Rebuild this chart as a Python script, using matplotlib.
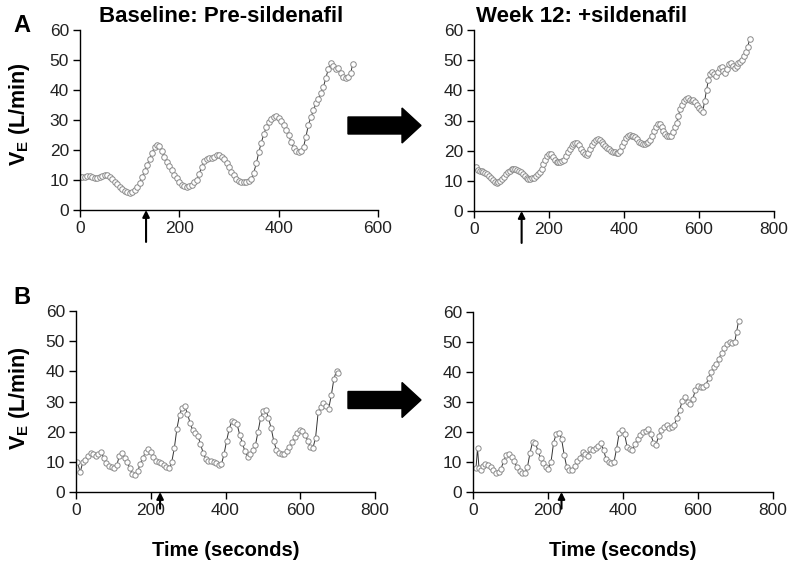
import matplotlib
matplotlib.use('Agg')
import matplotlib.pyplot as plt
from matplotlib.patches import Polygon

plt.rcParams['font.family'] = ['Liberation Sans', 'DejaVu Sans']
plt.rcParams['mathtext.fontset'] = 'custom'
plt.rcParams['mathtext.rm'] = 'Liberation Sans'
plt.rcParams['mathtext.bf'] = 'Liberation Sans:bold'

# A, baseline (pre-sildenafil)
a_pre_t = [0, 5, 10, 15, 20, 25, 30, 35, 40, 45, 50, 55, 60, 65, 70, 75, 80, 85, 90, 95,
           100, 105, 110, 115, 120, 125, 130, 135, 140, 145, 150, 155, 160, 165, 170, 175,
           180, 185, 190, 195, 200, 205, 210, 215, 220, 225, 230, 235, 240, 245, 250, 255,
           260, 265, 270, 275, 280, 285, 290, 295, 300, 305, 310, 315, 320, 325, 330, 335,
           340, 345, 350, 355, 360, 365, 370, 375, 380, 385, 390, 395, 400, 405, 410, 415,
           420, 425, 430, 435, 440, 445, 450, 455, 460, 465, 470, 475, 480, 485, 490, 495,
           500, 505, 510, 515, 520, 525, 530, 535, 540, 545, 549]
a_pre_ve = [11.0, 11.0, 11.1, 11.2, 11.2, 11.0, 10.8, 10.6, 11.0, 11.4,
            11.7, 11.6, 11.0, 10.2, 9.4, 8.6, 7.8, 7.0, 6.4, 6.0,
            5.8, 6.0, 6.6, 7.6, 9.0, 11.0, 13.0, 15.0, 17.0, 19.0,
            21.0, 21.7, 21.3, 19.8, 17.8, 16.0, 14.6, 13.2, 11.8, 10.6,
            9.4, 8.5, 7.9, 7.8, 8.0, 8.4, 9.2, 10.0, 12.0, 14.4,
            16.2, 17.0, 17.3, 17.5, 17.8, 18.3, 18.2, 17.6, 17.0, 15.8,
            14.3, 12.8, 11.6, 10.5, 9.8, 9.4, 9.3, 9.4, 9.6, 10.2,
            12.5, 15.6, 19.2, 22.5, 25.2, 27.6, 29.2, 30.4, 31.0, 31.3,
            30.8, 29.8, 28.3, 26.8, 25.0, 22.6, 20.6, 19.6, 19.4, 19.6,
            21.0, 24.5, 28.5, 31.0, 33.2, 35.6, 37.0, 39.0, 41.0, 44.0,
            47.0, 48.9, 48.0, 47.0, 47.4, 45.6, 44.2, 43.9, 44.2, 45.6, 48.6]

# A, week 12 (+sildenafil)
a_post_t = [5, 10, 15, 20, 25, 30, 35, 40, 45, 50, 55, 60, 65, 70, 75, 80, 85, 90, 95, 100,
            105, 110, 115, 120, 125, 130, 135, 140, 145, 150, 155, 160, 165, 170, 175, 180,
            185, 190, 195, 200, 205, 210, 215, 220, 225, 230, 235, 240, 245, 250, 255, 260,
            265, 270, 275, 280, 285, 290, 295, 300, 305, 310, 315, 320, 325, 330, 335, 340,
            345, 350, 355, 360, 365, 370, 375, 380, 385, 390, 395, 400, 405, 410, 415, 420,
            425, 430, 435, 440, 445, 450, 455, 460, 465, 470, 475, 480, 485, 490, 495, 500,
            505, 510, 515, 520, 525, 530, 535, 540, 545, 550, 555, 560, 565, 570, 575, 580,
            585, 590, 595, 600, 605, 610, 615, 620, 625, 630, 635, 640, 645, 650, 655, 660,
            665, 670, 675, 680, 685, 690, 695, 700, 705, 710, 715, 720, 725, 730, 735]
a_post_ve = [14.5, 13.6, 13.4, 13.2, 12.9, 12.5, 12.2, 11.6, 10.9, 10.2,
             9.7, 9.4, 9.5, 9.9, 10.6, 11.4, 12.2, 12.9, 13.4, 13.8,
             13.9, 13.9, 13.7, 13.4, 13.0, 12.4, 11.6, 10.8, 10.5, 10.6,
             10.8, 11.0, 11.6, 12.3, 13.0, 14.0, 15.5, 17.0, 18.3, 19.0,
             19.0, 18.0, 16.9, 16.3, 16.1, 16.2, 16.5, 17.0, 18.2, 19.5,
             20.6, 21.5, 22.2, 22.6, 22.5, 21.8, 20.5, 19.4, 18.8, 18.6,
             19.2, 20.5, 21.8, 22.8, 23.5, 23.9, 23.7, 23.0, 22.2, 21.5,
             21.0, 20.5, 20.0, 19.6, 19.5, 19.3, 19.2, 20.0, 21.5, 23.0,
             24.2, 24.9, 25.2, 25.0, 24.8, 24.4, 23.8, 23.0, 22.4, 22.2,
             22.3, 22.6, 23.0, 23.6, 24.8, 26.4, 27.8, 28.8, 29.0, 28.0,
             26.6, 25.6, 25.0, 24.8, 25.0, 26.2, 27.8, 29.2, 31.6, 33.8,
             35.2, 36.4, 37.2, 37.3, 36.9, 36.6, 36.8, 36.0, 35.1, 34.2,
             33.4, 32.9, 36.5, 40.2, 43.5, 45.5, 46.2, 45.5, 44.8, 46.0,
             47.4, 47.8, 46.5, 45.6, 47.2, 48.6, 49.0, 48.0, 47.5, 48.2,
             49.0, 49.5, 50.2, 51.5, 52.6, 54.5, 56.9]

# B, baseline
b_pre_t = [4, 11, 18, 25, 32, 39, 46, 53, 60, 67, 74, 81, 88, 95, 102, 109, 116, 123, 130,
           137, 144, 151, 158, 165, 172, 179, 186, 193, 200, 207, 214, 221, 228, 235, 242,
           249, 256, 263, 270, 277, 284, 291, 298, 305, 312, 319, 326, 333, 340, 347, 354,
           361, 368, 375, 382, 389, 396, 403, 410, 417, 424, 431, 438, 445, 452, 459, 466,
           473, 480, 487, 494, 501, 508, 515, 522, 529, 536, 543, 550, 557, 564, 571, 578,
           585, 592, 599, 606, 613, 620, 627, 634, 641, 648, 655, 662, 669, 676, 683, 690,
           697, 701]
b_pre_ve = [10.0, 6.5, 9.8, 10.5, 11.8, 12.8, 12.6, 11.8, 12.5, 13.2,
            11.4, 9.6, 8.6, 8.2, 7.8, 8.8, 12.0, 12.8, 11.2, 9.8,
            7.8, 6.0, 5.6, 6.8, 9.4, 11.4, 13.2, 14.1, 13.4, 11.5,
            10.4, 10.0, 9.6, 8.9, 8.2, 7.8, 9.8, 14.5, 21.0, 25.5,
            28.0, 28.4, 26.0, 23.0, 20.5, 19.4, 18.6, 16.0, 13.0, 11.0,
            10.3, 10.2, 10.0, 9.6, 9.0, 9.2, 12.5, 17.0, 21.0, 23.5,
            23.2, 22.4, 19.0, 16.3, 13.5, 11.7, 12.6, 13.8, 15.5, 20.0,
            24.5, 27.0, 27.2, 24.5, 21.2, 17.0, 14.0, 13.0, 12.6, 12.7,
            13.6, 14.8, 16.5, 18.2, 19.6, 20.5, 20.2, 19.0, 17.0, 15.0,
            14.6, 18.0, 26.5, 28.2, 29.5, 28.5, 27.6, 32.0, 37.5, 40.2, 39.3]

# B, week 12
b_post_t = [8, 12, 16, 20, 26, 33, 40, 47, 54, 61, 68, 75, 82, 89, 96, 103, 110, 117, 124,
            131, 138, 145, 152, 159, 166, 173, 180, 187, 194, 201, 208, 215, 222, 229, 236,
            243, 250, 257, 264, 271, 278, 285, 292, 299, 306, 313, 320, 327, 334, 341, 348,
            355, 362, 369, 376, 383, 390, 397, 404, 411, 418, 425, 432, 439, 446, 453, 460,
            467, 474, 481, 488, 495, 502, 509, 516, 523, 530, 537, 544, 551, 558, 565, 572,
            579, 586, 593, 600, 607, 614, 621, 628, 635, 642, 649, 656, 663, 670, 677, 684,
            691, 698, 703, 708]
b_post_ve = [7.9, 14.6, 8.0, 7.2, 8.8, 9.3, 9.0, 8.5, 7.2, 6.4,
             6.8, 7.8, 10.5, 12.4, 12.6, 11.8, 10.2, 8.2, 7.0, 6.4,
             6.2, 8.2, 13.0, 16.8, 16.5, 13.8, 11.3, 9.6, 8.2, 7.6,
             10.0, 16.5, 19.4, 19.6, 17.8, 12.5, 8.3, 7.2, 7.4, 8.8,
             10.3, 11.5, 13.2, 12.8, 12.0, 14.4, 14.0, 14.8, 15.4, 16.2,
             14.0, 11.0, 10.0, 9.6, 10.0, 14.5, 19.8, 20.7, 19.5, 15.0,
             14.4, 14.0, 16.0, 17.6, 19.0, 20.0, 20.5, 21.0, 19.2, 16.5,
             15.8, 18.6, 20.6, 21.8, 22.4, 21.2, 21.6, 22.4, 24.8, 27.2,
             30.5, 31.6, 30.0, 29.4, 31.0, 34.0, 35.2, 35.0, 35.0, 35.6,
             38.0, 40.0, 41.6, 42.8, 44.5, 46.5, 48.0, 49.2, 50.0, 49.6,
             50.0, 53.4, 56.9]

# start of exercise marker (seconds)
arrow_t = [133, 127, 225, 236]

W, H = 800, 577
fig = plt.figure(figsize=(8, 5.77), dpi=100)


def px_axes(x0, y0, x1, y1):
    # pixel box (left, top, right, bottom) -> figure axes
    return fig.add_axes([x0 / W, 1 - y1 / H, (x1 - x0) / W, (y1 - y0) / H])


def style(ax, xmax, xticks):
    ax.set_xlim(0, xmax)
    ax.set_ylim(0, 60)
    ax.set_xticks(xticks)
    ax.set_yticks([0, 10, 20, 30, 40, 50, 60])
    for s in ['top', 'right']:
        ax.spines[s].set_visible(False)
    for s in ['left', 'bottom']:
        ax.spines[s].set_linewidth(1.0)
    ax.tick_params(labelsize=12.5, length=5, width=1.0, colors='black', pad=3)
    for lab in ax.get_xticklabels() + ax.get_yticklabels():
        lab.set_color('#222222')


def trace(ax, t, ve, ms):
    ax.plot(t, ve, color='#333333', lw=0.7, marker='o', ms=ms,
            mfc='white', mec='#8a8a8a', mew=0.7)


def start_arrow(ax, t, length):
    ax.annotate('', xy=(t, 0), xytext=(0, -length), textcoords='offset points',
                arrowprops=dict(arrowstyle='-|>', color='black', lw=1.5,
                                mutation_scale=10, shrinkA=0, shrinkB=0),
                annotation_clip=False)


ax1 = px_axes(80, 30, 378, 210)
ax2 = px_axes(474, 30, 774, 211)
ax3 = px_axes(76, 311, 375, 492)
ax4 = px_axes(473, 312, 773, 492)

trace(ax1, a_pre_t, a_pre_ve, 4.0)
trace(ax2, a_post_t, a_post_ve, 4.0)
trace(ax3, b_pre_t, b_pre_ve, 3.8)
trace(ax4, b_post_t, b_post_ve, 3.8)

style(ax1, 600, [0, 200, 400, 600])
style(ax2, 800, [0, 200, 400, 600, 800])
style(ax3, 800, [0, 200, 400, 600, 800])
style(ax4, 800, [0, 200, 400, 600, 800])

start_arrow(ax1, arrow_t[0], 23)
start_arrow(ax2, arrow_t[1], 23)
start_arrow(ax3, arrow_t[2], 12)
start_arrow(ax4, arrow_t[3], 12)

ylab = r'$\mathbf{V}_{\mathbf{E}}$ (L/min)'
fig.text(20 / W, 1 - 114 / H, ylab, rotation=90, ha='center', va='center',
         fontsize=15.5, fontweight='bold')
fig.text(20 / W, 1 - 398 / H, ylab, rotation=90, ha='center', va='center',
         fontsize=15.5, fontweight='bold')

fig.text(221 / W, 1 - 17 / H, 'Baseline: Pre-sildenafil', ha='center', va='center',
         fontsize=16, fontweight='bold')
fig.text(582 / W, 1 - 17 / H, 'Week 12: +sildenafil', ha='center', va='center',
         fontsize=16, fontweight='bold')
fig.text(22 / W, 1 - 26 / H, 'A', ha='center', va='center', fontsize=17, fontweight='bold')
fig.text(22 / W, 1 - 297 / H, 'B', ha='center', va='center', fontsize=17, fontweight='bold')

fig.text(226 / W, 1 - 550 / H, 'Time (seconds)', ha='center', va='center',
         fontsize=14.5, fontweight='bold')
fig.text(623 / W, 1 - 550 / H, 'Time (seconds)', ha='center', va='center',
         fontsize=14.5, fontweight='bold')


def big_arrow(yc):
    # block arrow between the two columns
    pts = [(348, yc - 8.5), (402, yc - 8.5), (402, yc - 17.5), (421, yc),
           (402, yc + 17.5), (402, yc + 8.5), (348, yc + 8.5)]
    pts = [(x / W, 1 - y / H) for x, y in pts]
    fig.patches.append(Polygon(pts, closed=True, color='black',
                               transform=fig.transFigure, figure=fig))


big_arrow(125.5)
big_arrow(400)

fig.savefig('out.png', dpi=100)
